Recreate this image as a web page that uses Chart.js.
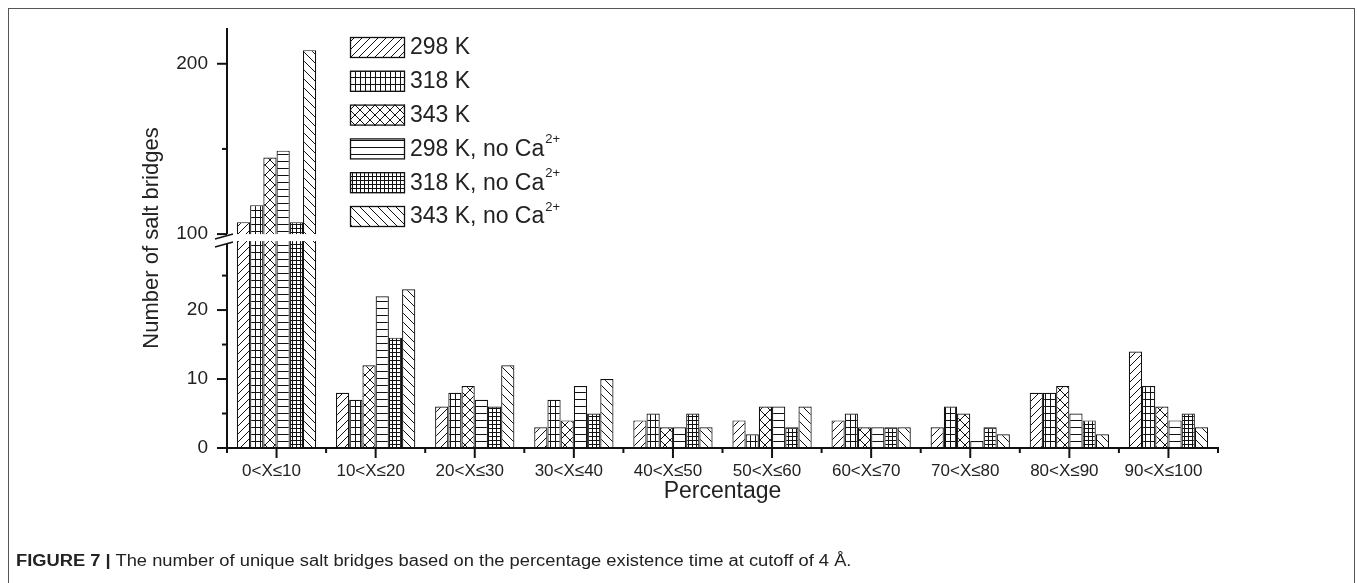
<!DOCTYPE html>
<html>
<head>
<meta charset="utf-8">
<script src="https://cdn.jsdelivr.net/npm/chart.js@4.4.1/dist/chart.umd.min.js"></script>
<style>
  html, body { margin: 0; padding: 0; background: #fff; }
  #wrap { position: relative; width: 1357px; height: 583px; overflow: hidden; font-family: "Liberation Sans", Arial, sans-serif; }
  #frame { position: absolute; left: 8px; top: 8px; width: 1347px; height: 620px; border: 1px solid #555; box-sizing: border-box; }
  #chart { position: absolute; left: 0; top: 0; }
  #caption { position: absolute; left: 16px; top: 552px; font-size: 16px; color: #222; white-space: nowrap;
             transform: scaleX(1.145); transform-origin: left center; }
</style>
</head>
<body>
<div id="wrap">
  <div id="frame"></div>
  <canvas id="chart" width="1357" height="583"></canvas>
  <div id="caption"><b>FIGURE 7 |</b> The number of unique salt bridges based on the percentage existence time at cutoff of 4 Å.</div>
</div>
<script>
const categories = ['0<X≤10', '10<X≤20', '20<X≤30', '30<X≤40', '40<X≤50',
                    '50<X≤60', '60<X≤70', '70<X≤80', '80<X≤90', '90<X≤100'];
const seriesLabels = ['298 K', '318 K', '343 K', '298 K, no Ca2+', '318 K, no Ca2+', '343 K, no Ca2+'];

const k298 = [107, 8, 6, 3, 4, 4, 4, 3, 8, 14];
const k318 = [117, 7, 8, 7, 5, 2, 5, 6, 8, 9];
const k343 = [145, 12, 9, 4, 3, 6, 3, 5, 9, 6];
const k298noCa = [149, 22, 7, 9, 3, 6, 3, 1, 5, 4];
const k318noCa = [107, 16, 6, 5, 5, 3, 3, 3, 4, 5];
const k343noCa = [208, 23, 12, 10, 3, 6, 3, 2, 2, 3];

const yMajorTicks = [0, 10, 20, 100, 200];
const yMinorTicks = [5, 15, 25, 150];
const axisBreak = [30, 100];   // lower part ends at 30, upper part starts at 100
const yMax = 221;

Chart.defaults.font.family = '"Liberation Sans", Arial, sans-serif';
Chart.defaults.color = '#222';

// linear axis with a gap between axisBreak[0] and axisBreak[1]
class BrokenLinearScale extends Chart.LinearScale {
  static id = 'brokenLinear';
  static defaults = {};
  parts() {
    const gap = 7;
    const h = this.bottom - this.top - gap;
    const lowH = h * 0.501;
    return { gap, lowH, upH: h - lowH };
  }
  buildTicks() {
    return yMajorTicks.concat(yMinorTicks).sort((a, b) => a - b).map(v => ({ value: v }));
  }
  getPixelForValue(value) {
    const { gap, lowH, upH } = this.parts();
    const [lo, hi] = axisBreak;
    if (value <= lo) return this.bottom - (value - this.min) / (lo - this.min) * lowH;
    if (value >= hi) return this.bottom - lowH - gap - (value - hi) / (this.max - hi) * upH;
    return this.bottom - lowH - gap / 2;
  }
  getValueForPixel(pixel) {
    const { gap, lowH, upH } = this.parts();
    const [lo, hi] = axisBreak;
    const d = this.bottom - pixel;
    if (d <= lowH) return this.min + d / lowH * (lo - this.min);
    return hi + (d - lowH - gap) / upH * (this.max - hi);
  }
}
Chart.register(BrokenLinearScale);

function makePattern(w, h, draw) {
  const c = document.createElement('canvas');
  c.width = w;
  c.height = h;
  const g = c.getContext('2d');
  g.fillStyle = '#fff';
  g.fillRect(0, 0, w, h);
  g.strokeStyle = '#111';
  g.lineWidth = 1;
  g.beginPath();
  draw(g, w, h);
  g.stroke();
  return g.createPattern(c, 'repeat');
}
function slashes(g, s) {
  g.moveTo(0, s); g.lineTo(s, 0);
  g.moveTo(-1, 1); g.lineTo(1, -1);
  g.moveTo(s - 1, s + 1); g.lineTo(s + 1, s - 1);
}
function backslashes(g, s) {
  g.moveTo(0, 0); g.lineTo(s, s);
  g.moveTo(-1, s - 1); g.lineTo(1, s + 1);
  g.moveTo(s - 1, -1); g.lineTo(s + 1, 1);
}
function grid(g, w, h) {
  g.moveTo(0.5, 0); g.lineTo(0.5, h);
  g.moveTo(0, 0.5); g.lineTo(w, 0.5);
}

const patterns = [
  makePattern(8, 8, (g, w) => slashes(g, w)),
  makePattern(5, 7, grid),
  makePattern(10, 10, (g, w) => { slashes(g, w); backslashes(g, w); }),
  makePattern(7, 7, (g, w) => { g.moveTo(0, 0.5); g.lineTo(w, 0.5); }),
  makePattern(4, 4, grid),
  makePattern(9, 9, (g, w) => backslashes(g, w))
];

const seriesValues = [k298, k318, k343, k298noCa, k318noCa, k343noCa];

function line(ctx, x1, y1, x2, y2) {
  ctx.beginPath();
  ctx.moveTo(x1, y1);
  ctx.lineTo(x2, y2);
  ctx.stroke();
}

const brokenAxes = {
  id: 'brokenAxes',
  afterDatasetsDraw(chart) {
    const { ctx, chartArea: a, scales: { x, y } } = chart;
    const yLow = y.getPixelForValue(axisBreak[0]);
    const yHigh = y.getPixelForValue(axisBreak[1]);
    const L = a.left;
    ctx.save();
    ctx.fillStyle = '#fff';
    ctx.fillRect(L + 1, yHigh, a.right - L, yLow - yHigh);
    ctx.strokeStyle = '#111';
    ctx.lineWidth = 2;
    line(ctx, L, a.top, L, yHigh);
    line(ctx, L, yLow, L, a.bottom + 1);
    line(ctx, L - 1, a.bottom, a.right + 1, a.bottom);
    yMajorTicks.forEach(v => { const p = y.getPixelForValue(v); line(ctx, L, p, L - 10, p); });
    yMinorTicks.forEach(v => { const p = y.getPixelForValue(v); line(ctx, L, p, L - 5, p); });
    categories.forEach((c, i) => {
      const p = x.getPixelForValue(i);
      line(ctx, p, a.bottom, p, a.bottom + 10);
    });
    for (let i = 0; i <= categories.length; i++) {
      const p = x.getPixelForValue(i - 0.5);
      line(ctx, p, a.bottom, p, a.bottom + 5);
    }
    // break marks
    ctx.beginPath();
    ctx.moveTo(L - 12, yHigh + 5); ctx.lineTo(L + 6, yHigh);
    ctx.lineTo(L + 6, yLow + 1); ctx.lineTo(L - 12, yLow + 6);
    ctx.closePath();
    ctx.fill();
    ctx.lineWidth = 1.5;
    line(ctx, L - 12, yHigh + 5, L + 6, yHigh);
    line(ctx, L - 12, yLow + 6, L + 6, yLow + 1);
    ctx.restore();
  }
};

const hatchLegend = {
  id: 'hatchLegend',
  afterDraw(chart) {
    const ctx = chart.ctx;
    ctx.save();
    chart.data.datasets.forEach((ds, i) => {
      const cy = 47 + i * 33.8;
      ctx.fillStyle = ds.backgroundColor;
      ctx.fillRect(350, cy - 10, 55, 21);
      ctx.strokeStyle = '#111';
      ctx.lineWidth = 1.3;
      ctx.strokeRect(350.5, cy - 9.5, 54, 20);
      ctx.fillStyle = '#222';
      ctx.textBaseline = 'middle';
      ctx.font = '23px "Liberation Sans", Arial, sans-serif';
      const m = ds.label.match(/^(.*Ca)(2\+)$/);
      const main = m ? m[1] : ds.label;
      ctx.fillText(main, 410, cy + 1);
      if (m) {
        const w = ctx.measureText(main).width;
        ctx.font = '13px "Liberation Sans", Arial, sans-serif';
        ctx.fillText(m[2], 410 + w + 1, cy - 9);
      }
    });
    ctx.restore();
  }
};

new Chart(document.getElementById('chart'), {
  type: 'bar',
  data: {
    labels: categories,
    datasets: seriesLabels.map((label, i) => ({
      label,
      data: seriesValues[i],
      backgroundColor: patterns[i],
      borderColor: '#111',
      borderWidth: 1.2,
      categoryPercentage: 0.8,
      barPercentage: 1
    }))
  },
  options: {
    responsive: false,
    animation: false,
    events: [],
    devicePixelRatio: 1,
    layout: { padding: { left: 130, top: 28, right: 139, bottom: 78 } },
    plugins: { legend: { display: false }, tooltip: { enabled: false } },
    scales: {
      x: {
        offset: true,
        grid: { display: false },
        border: { display: false },
        ticks: { font: { size: 17 }, padding: 5, labelOffset: -5, maxRotation: 0, autoSkip: false },
        title: { display: true, text: 'Percentage', font: { size: 23 }, padding: { top: 0, bottom: 0 } },
        afterFit: s => { s.height = 57; }
      },
      y: {
        type: 'brokenLinear',
        min: 0,
        max: yMax,
        grid: { display: false },
        border: { display: false },
        ticks: {
          font: { size: 19 },
          padding: 11,
          autoSkip: false,
          callback: v => yMajorTicks.includes(v) ? String(v) : ''
        },
        title: { display: true, text: 'Number of salt bridges', font: { size: 22 }, padding: { top: 9, bottom: 0 } },
        afterFit: s => { s.width = 97; }
      }
    }
  },
  plugins: [brokenAxes, hatchLegend]
});
</script>
</body>
</html>
